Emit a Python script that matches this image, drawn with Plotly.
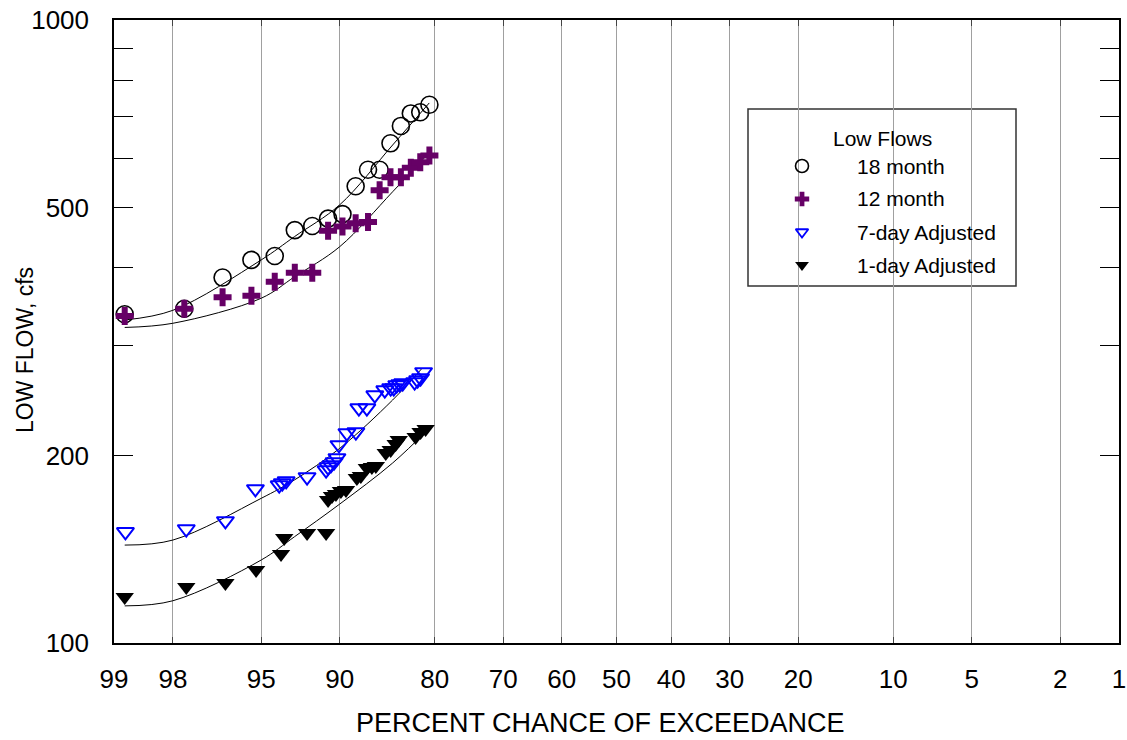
from statistics import NormalDist
import plotly.graph_objects as go

# ---- data: percent chance of exceedance and low flow (cfs) ----
pct_month = [98.86, 97.73, 96.59, 95.45, 94.32, 93.18, 92.05, 90.91, 89.77,
             88.64, 87.50, 86.36, 85.23, 84.09, 82.95, 81.82, 80.68]
flow_18month = [337, 344, 386, 412, 418, 460, 467, 480, 488,
                541, 575, 575, 634, 676, 708, 711, 731]
flow_12month = [335, 344, 359, 361, 380, 393, 393, 459, 466,
                472, 474, 533, 559, 559, 579, 591, 606]

pct_7day = [98.85, 97.68, 96.49, 95.27, 94.08, 93.91, 93.69, 92.40, 91.06,
            90.91, 90.69, 90.45, 90.22, 90.06, 89.40, 88.62, 88.35, 87.61,
            86.84, 85.83, 85.21, 84.88, 84.55, 84.22, 83.89, 82.50, 82.14,
            81.78, 81.41]
flow_7day = [150.8, 152.4, 157.0, 176.7, 179.3, 180.6, 182.0, 184.7, 189.5,
             191.6, 193.1, 195.2, 198.2, 207.9, 217.3, 218.1, 238.3, 238.3,
             250.0, 254.7, 256.6, 256.6, 259.5, 260.4, 261.4, 262.4, 264.3,
             266.3, 272.3]

pct_1day = [98.86, 97.68, 96.49, 95.24, 93.98, 93.80, 92.40, 91.06, 90.91,
            90.61, 90.30, 89.90, 89.48, 88.53, 88.17, 87.61, 87.13, 86.74,
            85.73, 85.21, 84.67, 84.33, 82.38, 81.78, 81.16]
flow_1day = [118.5, 123.0, 124.8, 131.0, 139.0, 147.4, 150.2, 150.2, 169.6,
             172.2, 173.4, 175.4, 176.0, 184.0, 185.4, 190.9, 191.6, 192.3,
             201.8, 204.0, 208.6, 211.7, 214.1, 218.1, 220.5]

# fitted frequency curves
fit_pct_18 = [98.86, 98.0, 95.0, 93.2, 90.0, 85.0, 80.7]
fit_18month = [330, 342, 412, 449, 505, 630, 736]
fit_pct_12 = [98.86, 98.0, 95.0, 93.2, 90.0, 85.0, 80.6]
fit_12month = [321, 326, 357.6, 387, 432.6, 530, 614.5]
fit_pct_7 = [98.86, 98.0, 95.0, 93.2, 90.0, 85.0, 81.6]
fit_7day = [143.6, 146.3, 170.7, 182.7, 205.3, 245.5, 276]
fit_pct_1 = [98.86, 98.0, 95.0, 93.2, 90.0, 85.0, 80.7]
fit_1day = [114.7, 116.9, 135.9, 148.1, 167.1, 194.5, 221.1]

x_tick_pct = [99, 98, 95, 90, 80, 70, 60, 50, 40, 30, 20, 10, 5, 2, 1]
y_tick_vals = [100, 200, 300, 400, 500, 600, 700, 800, 900, 1000]
y_tick_text = ["100", "200", "", "", "500", "", "", "", "", "1000"]

x_title = "PERCENT CHANCE OF EXCEEDANCE"
y_title = "LOW FLOW, cfs"
legend_title = "Low Flows"
legend_names = ["18 month", "12 month", "7-day Adjusted", "1-day Adjusted"]

FONT = "Arial, Liberation Sans, sans-serif"
PURPLE = "#660066"
BLUE = "#0000ff"

# plot area in pixels (figure is 1127 x 740)
W, H = 1127, 740
PL, PR, PT, PB = 114, 1119, 20, 643

nd = NormalDist()


def zpos(pcts):
    """Normal-probability position for a percent chance of exceedance."""
    return [nd.inv_cdf(p / 100.0) for p in pcts]


def paper_x(px):
    return (px - PL) / (PR - PL)


def paper_y(py):
    return (PB - py) / (PB - PT)


fig = go.Figure()

# fitted curves
for px_, fv in [(fit_pct_18, fit_18month), (fit_pct_12, fit_12month),
                (fit_pct_7, fit_7day), (fit_pct_1, fit_1day)]:
    fig.add_trace(go.Scatter(
        x=zpos(px_), y=fv, mode="lines",
        line=dict(color="black", width=1, shape="spline", smoothing=1.0),
        showlegend=False, hoverinfo="skip"))

# observed points
fig.add_trace(go.Scatter(
    x=zpos(pct_month), y=flow_18month, mode="markers", name=legend_names[0],
    marker=dict(symbol="circle-open", size=17, color="black",
                line=dict(width=1.6, color="black")),
    showlegend=False))
fig.add_trace(go.Scatter(
    x=zpos(pct_month), y=flow_12month, mode="markers", name=legend_names[1],
    marker=dict(symbol="cross", size=15, color=PURPLE,
                line=dict(width=0)),
    showlegend=False))
fig.add_trace(go.Scatter(
    x=zpos(pct_7day), y=flow_7day, mode="markers", name=legend_names[2],
    marker=dict(symbol="triangle-down-open", size=15, color=BLUE,
                line=dict(width=2, color=BLUE)),
    showlegend=False))
fig.add_trace(go.Scatter(
    x=zpos(pct_1day), y=flow_1day, mode="markers", name=legend_names[3],
    marker=dict(symbol="triangle-down", size=16, color="black",
                line=dict(width=0)),
    showlegend=False))

# legend keys, placed on a pixel-based overlay axis pair
key_x = 802
key_rows = [166, 199, 232, 265]
key_styles = [
    dict(symbol="circle-open", size=13, color="black", line=dict(width=1.6, color="black")),
    dict(symbol="cross", size=12, color=PURPLE, line=dict(width=0)),
    dict(symbol="triangle-down-open", size=11, color=BLUE, line=dict(width=1.8, color=BLUE)),
    dict(symbol="triangle-down", size=12, color="black", line=dict(width=0)),
]
for yk, st in zip(key_rows, key_styles):
    fig.add_trace(go.Scatter(x=[key_x], y=[yk], mode="markers", marker=st,
                             xaxis="x2", yaxis="y2", showlegend=False,
                             hoverinfo="skip"))

annotations = [dict(x=paper_x(882), y=paper_y(138), xref="paper", yref="paper",
                    text=legend_title, showarrow=False,
                    xanchor="center", yanchor="middle",
                    font=dict(family=FONT, size=21, color="black"))]
for yk, nm in zip(key_rows, legend_names):
    annotations.append(dict(x=paper_x(855), y=paper_y(yk), xref="paper",
                            yref="paper", text=nm, showarrow=False,
                            xanchor="left", yanchor="middle",
                            font=dict(family=FONT, size=21, color="black")))

# axis titles
annotations.append(dict(x=paper_x(600), y=paper_y(723), xref="paper",
                        yref="paper", text=x_title, showarrow=False,
                        xanchor="center", yanchor="middle",
                        font=dict(family=FONT, size=27, color="black")))
annotations.append(dict(x=paper_x(25), y=paper_y(350), xref="paper",
                        yref="paper", text=y_title, showarrow=False,
                        textangle=-90, xanchor="center", yanchor="middle",
                        font=dict(family=FONT, size=23, color="black")))

zlim = nd.inv_cdf(0.99)

fig.update_layout(
    width=W, height=H,
    margin=dict(l=PL, r=W - PR, t=PT, b=H - PB),
    paper_bgcolor="white", plot_bgcolor="white",
    font=dict(family=FONT, color="black"),
    xaxis=dict(
        range=[zlim, -zlim], automargin=False,
        tickvals=zpos(x_tick_pct), ticktext=[str(v) for v in x_tick_pct],
        showgrid=True, gridcolor="#a0a0a0", gridwidth=1,
        zeroline=False, showline=True, linecolor="black", linewidth=1.5,
        mirror="ticks", ticks="inside", ticklen=6, tickcolor="#444",
        tickfont=dict(size=26), ticklabelstandoff=12),
    yaxis=dict(
        type="log", range=[2, 3], automargin=False,
        tickvals=y_tick_vals, ticktext=y_tick_text,
        showgrid=False, zeroline=False,
        showline=True, linecolor="black", linewidth=1.5,
        mirror="ticks", ticks="inside", ticklen=19, tickcolor="black",
        tickwidth=1, tickfont=dict(size=26), ticklabelstandoff=18),
    xaxis2=dict(overlaying="x", range=[PL, PR], visible=False),
    yaxis2=dict(overlaying="y", range=[PB, PT], visible=False),
    shapes=[dict(type="rect", xref="paper", yref="paper",
                 x0=paper_x(748), x1=paper_x(1016),
                 y0=paper_y(286), y1=paper_y(109), fillcolor="white",
                 line=dict(color="#333", width=1.5), layer="between")],
    annotations=annotations,
    showlegend=False,
)

fig.write_html("out.html")
